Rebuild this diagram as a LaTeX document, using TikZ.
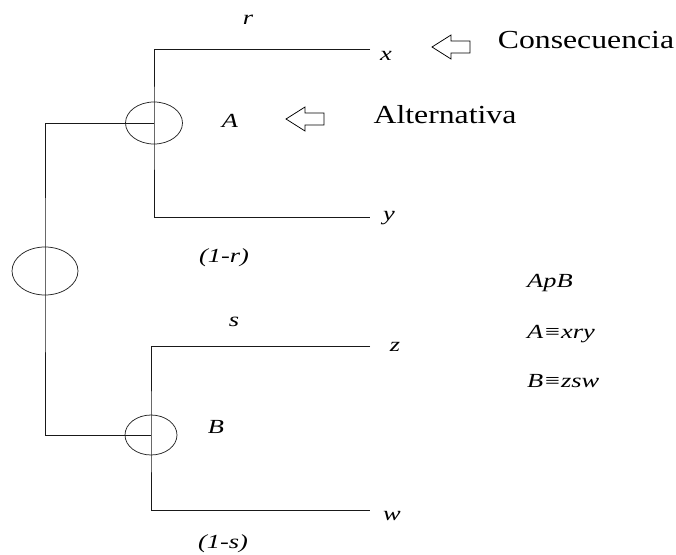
\documentclass[tikz,border=0pt]{standalone}
\usepackage{fontspec}
\setmainfont{Liberation Serif}[FakeStretch=1.22]
\newfontfamily\itf{Liberation Serif Italic}[FakeStretch=1.32]
\usetikzlibrary{shapes.geometric}
\begin{document}
\begin{tikzpicture}[x=1pt,y=-1pt,
  ln/.style={line width=1pt, draw=black!90},
  circ/.style={ellipse, draw=black!85, line width=0.75pt, inner sep=0pt},
  itl/.style={font=\itf\fontsize{20}{20}\selectfont, anchor=base, inner sep=0pt, text=black},
  rml/.style={font=\fontsize{26}{26}\selectfont, anchor=base, inner sep=0pt, text=black},
  hollow arrow/.pic={\draw[line width=0.75pt, draw=black, fill=white]
     (0,0) -- (19,-12) -- (19,-6) -- (38,-6) -- (38,6) -- (19,6) -- (19,12) -- cycle;}
]
\useasboundingbox (0,0) rectangle (676,554);

% chance nodes
\node[circ, minimum width=66pt, minimum height=48pt] (eR) at (45,271) {};
\node[circ, minimum width=57pt, minimum height=42pt] (eA) at (154,123) {};
\node[circ, minimum width=52pt, minimum height=40pt] (eB) at (151,435) {};

% end points of the branches
\coordinate (xend) at (370,49);
\coordinate (yend) at (370,217);
\coordinate (zend) at (370,346);
\coordinate (wend) at (370,510);

% connectors
\draw[ln] (eA.center) -| (eR.center) |- (eB.center);
\draw[ln] (xend) -| (eA.center) |- (yend);
\draw[ln] (zend) -| (eB.center) |- (wend);

% labels
\node[itl] (lr)  at (248,24)  {r};
\node[itl] (lA)  at (230,127) {A};
\node[itl] (l1r) at (224,262) {(1-r)};
\node[itl] (lx)  at (386,60)  {x};
\node[itl] (ly)  at (389,220) {y};
\node[itl] (ls)  at (234,326) {s};
\node[itl] (lB)  at (216,433) {B};
\node[itl] (l1s) at (223,548) {(1-s)};
\node[itl] (lz)  at (395,351) {z};
\node[itl] (lw)  at (392,520) {w};

\node[itl, anchor=base west] (apb) at (527,287) {ApB};
\node[itl, anchor=base west] (axry) at (527,338) {A≡xry};
\node[itl, anchor=base west] (bzsw) at (527,387) {B≡zsw};

\node[rml] (cons) at (586,48)  {Consecuencia};
\node[rml] (alt)  at (445,123) {Alternativa};

% hollow arrows
\pic at (432,47) {hollow arrow};
\pic at (286,119) {hollow arrow};
\end{tikzpicture}
\end{document}
